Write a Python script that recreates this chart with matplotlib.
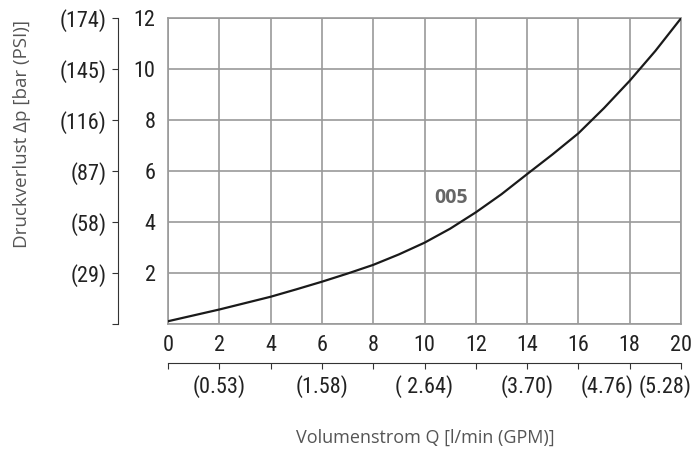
import numpy as np
import matplotlib.pyplot as plt
from matplotlib import font_manager

# Volumenstrom in l/min and Druckverlust in bar
flow = [0, 1, 2, 3, 4, 5, 6, 7, 8, 9, 10, 11, 12, 13, 14, 15, 16, 17, 18, 19, 20]
dp = [0.12, 0.35, 0.58, 0.83, 1.08, 1.37, 1.67, 1.99, 2.33, 2.74, 3.2,
      3.75, 4.39, 5.1, 5.89, 6.67, 7.49, 8.48, 9.55, 10.72, 12.0]

x_ticks = [0, 2, 4, 6, 8, 10, 12, 14, 16, 18, 20]
y_ticks = [0, 2, 4, 6, 8, 10, 12]
y_labels = ["", "2", "4", "6", "8", "10", "12"]
psi_labels = ["", "(29)", "(58)", "(87)", "(116)", "(145)", "(174)"]
gpm = {2: "(0.53)", 6: "(1.58)", 10: "( 2.64)", 14: "(3.70)"}
gpm_end = ["(4.76)", "(5.28)"]
curve_name = "005"

installed = {f.name for f in font_manager.fontManager.ttflist}
num_font = "Roboto"
for cand in ["Liberation Sans Narrow", "Roboto Condensed", "DejaVu Sans Condensed"]:
    if cand in installed:
        num_font = cand
        break
txt_font = "Open Sans"
grid_c = "#9a9a9a"
num_c = "#222222"
num_size = 16

fig = plt.figure(figsize=(6.93, 4.5), dpi=100)

ax = fig.add_axes([168/693, 1-324.3/450, 513/693, 306/450])
ax.plot(flow, dp, color="#1a1a1a", lw=1.6, zorder=3)
ax.set_xlim(0, 20)
ax.set_ylim(0, 12)
ax.set_xticks(x_ticks)
ax.set_yticks(y_ticks)
ax.set_yticklabels(y_labels)
ax.grid(True, color=grid_c, lw=1.2)
for s in ax.spines.values():
    s.set_color(grid_c)
    s.set_linewidth(1.2)
ax.tick_params(length=0, labelsize=num_size, colors=num_c)
ax.tick_params(axis="x", pad=8)
ax.tick_params(axis="y", pad=9)
for lab in ax.get_xticklabels() + ax.get_yticklabels():
    lab.set_family(num_font)
ax.text(11.05, 4.95, curve_name, ha="center", va="center", fontsize=14,
        fontweight="bold", color="#666666", family=txt_font)

# PSI axis on the left
axl = fig.add_axes([117.7/693, 1-324.3/450, 0.001, 306/450])
axl.set_ylim(0, 12)
axl.set_yticks(y_ticks)
axl.set_yticklabels(psi_labels)
axl.set_xticks([])
for k in ["top", "right", "bottom"]:
    axl.spines[k].set_visible(False)
axl.spines["left"].set_color("#333333")
axl.tick_params(axis="y", length=4, color="#333333", labelsize=num_size,
                colors=num_c, pad=4)
for lab in axl.get_yticklabels():
    lab.set_family(num_font)
axl.patch.set_visible(False)

# GPM axis at the bottom
axb = fig.add_axes([168/693, 1-362.7/450, 513/693, 0.001])
axb.set_xlim(0, 20)
axb.set_xticks(x_ticks)
axb.set_xticklabels([gpm.get(t, "") for t in x_ticks])
axb.set_yticks([])
for k in ["top", "right", "left"]:
    axb.spines[k].set_visible(False)
axb.spines["bottom"].set_color("#333333")
axb.tick_params(axis="x", length=4, color="#333333", labelsize=num_size,
                colors=num_c, pad=5)
for lab in axb.get_xticklabels():
    lab.set_family(num_font)
for xv, txt in zip([18, 20], gpm_end):
    axb.annotate(txt, (xv, 0), xycoords=axb.get_xaxis_transform(),
                 xytext=(2.5 if xv == 18 else 7.5, -9), textcoords="offset points",
                 ha="right", va="top", fontsize=num_size, color=num_c, family=num_font)
axb.patch.set_visible(False)

fig.text(22/693, 1-134/450, "Druckverlust Δp [bar (PSI)]", rotation=90,
         ha="center", va="center", fontsize=13.5, color="#555555", family=txt_font)
fig.text(425/693, 1-438/450, "Volumenstrom Q [l/min (GPM)]",
         ha="center", va="center", fontsize=13, color="#555555", family=txt_font)

fig.savefig("out.png", dpi=100)
